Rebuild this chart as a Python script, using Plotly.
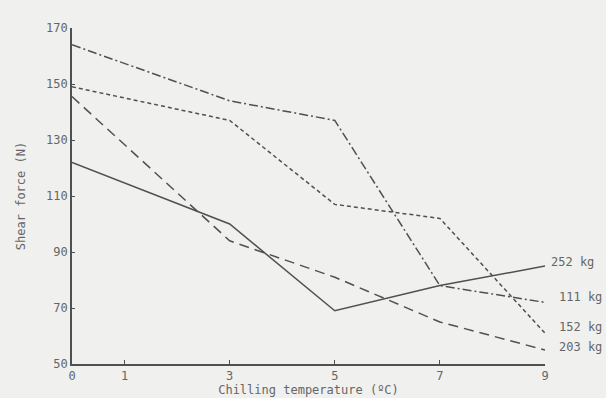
import plotly.graph_objects as go

temps = [0, 3, 5, 7, 9]
kg252 = [122, 100, 69, 78, 85]
kg111 = [164, 144, 137, 78, 72]
kg152 = [149, 137, 107, 102, 61]
kg203 = [145.5, 94, 81, 65, 55]

series_names = ["252 kg", "111 kg", "152 kg", "203 kg"]
series_vals = [kg252, kg111, kg152, kg203]
dashes = ["solid", "9px,3px,2px,3px", "4px,3px", "10px,6px"]
label_xshift = [4, 12, 12, 12]
label_yshift = [4, 5, 6, 3]

x_ticks = [0, 1, 3, 5, 7, 9]
y_ticks = [50, 70, 90, 110, 130, 150, 170]

bg = "#f0f0ee"
line_col = "#505050"
text_col = "#666666"
font_fam = "DejaVu Sans Mono"

fig = go.Figure()
for name, vals, d in zip(series_names, series_vals, dashes):
    fig.add_trace(go.Scatter(x=temps, y=vals, mode="lines", name=name,
                             line=dict(color=line_col, width=1.5, dash=d),
                             showlegend=False))

for name, vals, xs, ys in zip(series_names, series_vals, label_xshift, label_yshift):
    fig.add_annotation(x=temps[-1], y=vals[-1], text=name, showarrow=False,
                       xanchor="left", yanchor="middle", xshift=xs, yshift=ys,
                       font=dict(family=font_fam, size=12, color=text_col))

fig.update_layout(
    width=606, height=398, autosize=False,
    margin=dict(l=72, r=61, t=28, b=34),
    paper_bgcolor=bg, plot_bgcolor=bg,
    font=dict(family=font_fam, size=12, color=text_col),
    xaxis=dict(range=[0, 9], tickvals=x_ticks, ticktext=[str(v) for v in x_ticks],
               showgrid=False, zeroline=False, showline=True, linecolor=line_col,
               linewidth=1.6, ticks="inside", ticklen=4, tickcolor=line_col,
               automargin=False,
               title=dict(text="Chilling temperature (ºC)", standoff=2,
                          font=dict(family=font_fam, size=12, color=text_col)),
               tickfont=dict(family=font_fam, size=12, color=text_col)),
    yaxis=dict(range=[50, 170], tickvals=y_ticks,
               showgrid=False, zeroline=False, showline=True, linecolor=line_col,
               linewidth=1.6, ticks="inside", ticklen=3, tickcolor=line_col,
               automargin=False,
               title=dict(text="Shear force (N)", standoff=18,
                          font=dict(family=font_fam, size=12, color=text_col)),
               tickfont=dict(family=font_fam, size=12, color=text_col)),
)

fig.write_html("out.html",
               config={"displayModeBar": False, "responsive": False},
               post_script="document.body.style.margin='0px';"
                           "document.body.style.overflow='hidden';"
                           "document.body.style.background='" + bg + "';")
